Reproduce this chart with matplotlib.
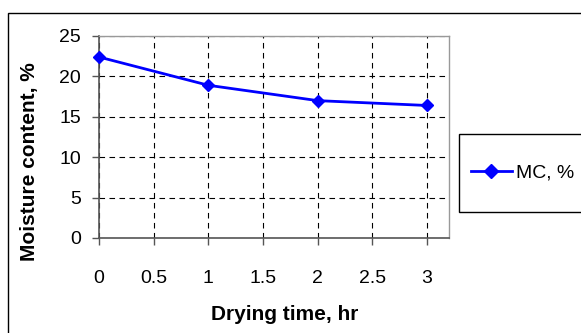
import matplotlib
matplotlib.use("Agg")
import matplotlib.pyplot as plt
from matplotlib.patches import Rectangle

plt.rcParams['font.family'] = ['Liberation Sans', 'DejaVu Sans']

time_hr = [0, 1, 2, 3]
moisture = [22.4, 18.9, 17.0, 16.4]
xticks = [0, 0.5, 1, 1.5, 2, 2.5, 3]
yticks = [0, 5, 10, 15, 20, 25]

W, H = 581, 333
fig = plt.figure(figsize=(W/100, H/100), dpi=100)
fig.patch.set_facecolor('white')
# outer chart frame
fig.patches.append(Rectangle((8/W, -0.02), 1.05, 1 - 13/H + 0.02, transform=fig.transFigure,
                             fill=False, edgecolor='black', linewidth=1.0))

ax = fig.add_axes([99/W, 1 - 238/H, (449-99)/W, (238-36)/H])
ax.plot(time_hr, moisture, color='#0000FF', linewidth=2.0, marker='D', markersize=6.5,
        label='MC, %', clip_on=False, zorder=3)
ax.set_xlim(0, 3.2)
ax.set_ylim(0, 25)
ax.set_xticks(xticks)
ax.set_xticklabels([f"{t:g}" for t in xticks])
ax.set_yticks(yticks)
ax.grid(True, color='black', linestyle=(0, (5, 4)), linewidth=0.8)
ax.tick_params(axis='both', labelsize=14, length=5, width=1, color='#555555')
ax.tick_params(axis='x', pad=18)
ax.tick_params(axis='y', pad=8)
for s in ['left', 'bottom']:
    ax.spines[s].set_color('#555555')
    ax.spines[s].set_linewidth(1.2)
for s in ['top', 'right']:
    ax.spines[s].set_color('#999999')
    ax.spines[s].set_linewidth(1.0)

fig.text(285/W, 1 - 315/H, 'Drying time, hr', ha='center', va='center',
         fontsize=15, fontweight='bold')
fig.text(30/W, 1 - 162/H, 'Moisture content, %', ha='center', va='center',
         rotation=90, fontsize=15, fontweight='bold')

# legend box (extends past right edge as in the reference)
fig.patches.append(Rectangle((459/W, 1 - 212/H), 0.3, 78/H, transform=fig.transFigure,
                             fill=True, facecolor='white', edgecolor='black', linewidth=1.0))
leg = fig.legend(loc='center left', bbox_to_anchor=(459/W, 1 - 173/H), fontsize=14,
                 frameon=False, handlelength=2.1, handletextpad=0.25,
                 borderpad=0.6, borderaxespad=0, markerscale=1.1)

fig.savefig('out.png', dpi=100)
